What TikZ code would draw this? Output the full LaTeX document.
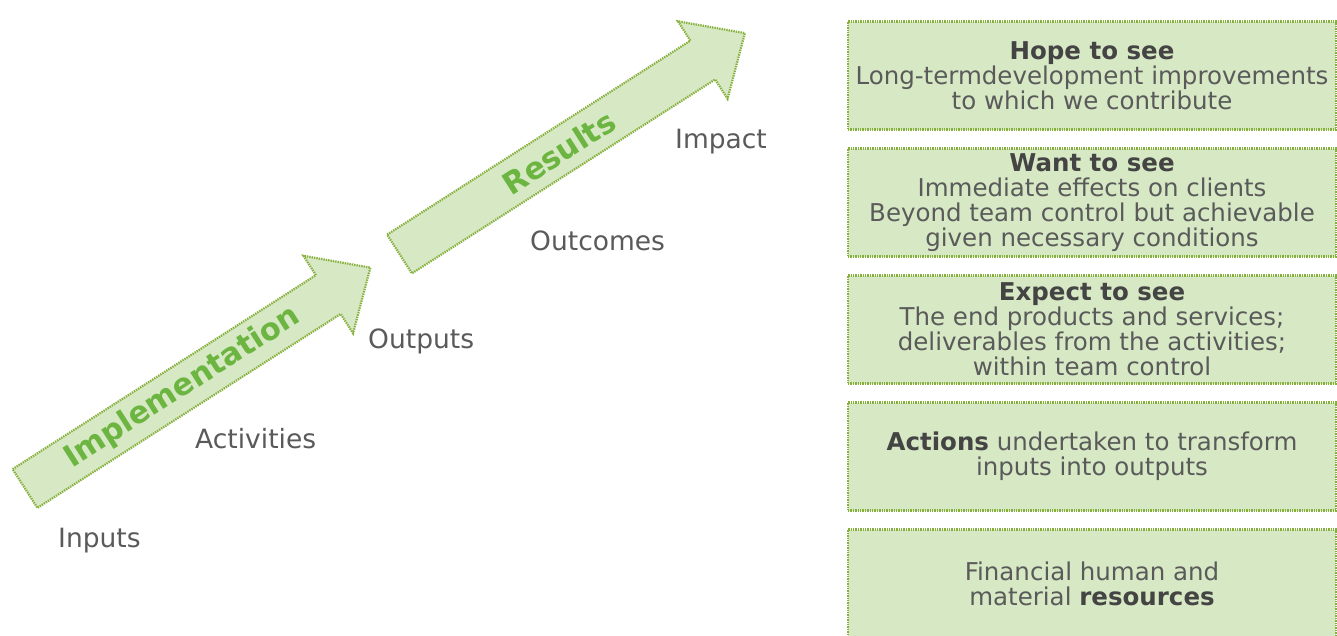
\documentclass[tikz,border=0pt]{standalone}
\usepackage{fontspec}
\setmainfont{DejaVu Sans}
\usetikzlibrary{positioning}

\definecolor{leafline}{HTML}{86B03C}
\definecolor{leaffill}{HTML}{D7E8C4}
\definecolor{leaftext}{HTML}{6BB540}
\definecolor{labelgray}{HTML}{5A5A5A}
\definecolor{boldgray}{HTML}{444444}

\newcommand{\stagehead}[1]{{\bfseries\color{boldgray}#1}}

\tikzset{
  dotline/.style={draw=leafline, line width=2.2pt, dash pattern=on 1.4pt off 1pt},
  arrowbox/.style={dotline, fill=leaffill},
  arrowtext/.style={font=\fontsize{30.5}{30}\selectfont\bfseries, text=leaftext, inner sep=0pt},
  stagelabel/.style={font=\fontsize{26.5}{30}\selectfont, text=labelgray, inner sep=0pt, anchor=base west},
  stagebox/.style={dotline, fill=leaffill, minimum width=488pt, minimum height=108pt, outer sep=0pt,
    align=center, inner sep=0pt, text=labelgray, font=\fontsize{24.5}{25}\selectfont},
}

\begin{document}
\begin{tikzpicture}[x=1pt,y=-1pt]
\clip (0,0) rectangle (1337,635);
\fill[white] (0,0) rectangle (1337,635);

% the two rising arrows
\begin{scope}[shift={(25,488.5)},rotate=32.6,transform shape]
\draw[arrowbox] (0,-23) -- (360,-23) -- (360,-46) -- (410,0) -- (360,46) -- (360,23) -- (0,23) -- cycle;
\node[arrowtext] (implementation) at (187,0) {Implementation};
\end{scope}
\begin{scope}[shift={(399.5,254)},rotate=32.6,transform shape]
\draw[arrowbox] (0,-23) -- (360,-23) -- (360,-46) -- (410,0) -- (360,46) -- (360,23) -- (0,23) -- cycle;
\node[arrowtext] (results) at (189,0) {Results};
\end{scope}

% stage labels
\node[stagelabel] (inputs) at (58,547) {Inputs};
\node[stagelabel] (activities) at (195,448) {Activities};
\node[stagelabel] (outputs) at (368,348) {Outputs};
\node[stagelabel] (outcomes) at (530,250) {Outcomes};
\node[stagelabel] (impact) at (675,148) {Impact};

% explanation boxes
\node[stagebox] (hope) at (1092,75.5) {\stagehead{Hope to see}\\Long-termdevelopment improvements\\to which we contribute};
\node[stagebox, below=19pt of hope] (want) {\stagehead{Want to see}\\Immediate effects on clients\\Beyond team control but achievable\\given necessary conditions};
\node[stagebox, below=19pt of want] (expect) {\stagehead{Expect to see}\\The end products and services;\\deliverables from the activities;\\within team control};
\node[stagebox, below=19pt of expect] (actions) {\stagehead{Actions} undertaken to transform\\inputs into outputs};
\node[stagebox, below=19pt of actions] (resources) {Financial human and\\material \stagehead{resources}};
\end{tikzpicture}
\end{document}
